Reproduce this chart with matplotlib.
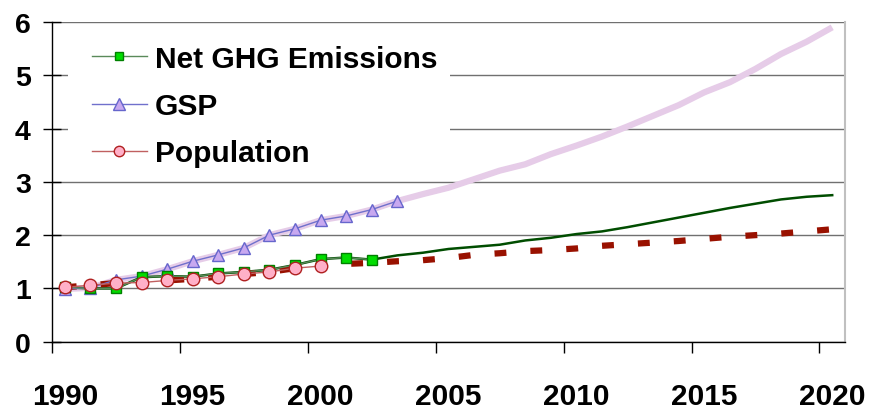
import matplotlib
matplotlib.use("Agg")
import matplotlib.pyplot as plt
from matplotlib.patches import Rectangle
from matplotlib.lines import Line2D

plt.rcParams['font.family'] = ['Liberation Sans', 'DejaVu Sans']
plt.rcParams['font.weight'] = 'bold'

# ---- data ----
years_ghg = list(range(1990, 2003))
ghg = [1.02, 1.00, 1.00, 1.21, 1.23, 1.22, 1.28, 1.31, 1.35, 1.44, 1.55, 1.58, 1.54]

years_gsp = list(range(1990, 2004))
gsp = [0.99, 1.01, 1.16, 1.23, 1.36, 1.51, 1.63, 1.76, 2.00, 2.12, 2.28, 2.36, 2.48, 2.64]

years_pop = list(range(1990, 2001))
pop = [1.02, 1.06, 1.10, 1.11, 1.15, 1.18, 1.22, 1.27, 1.31, 1.38, 1.42]

years_proj = list(range(1990, 2021))
ghg_proj = ghg + [1.62, 1.67, 1.74, 1.78, 1.82, 1.90, 1.95, 2.02, 2.07, 2.15,
                  2.24, 2.33, 2.42, 2.51, 2.59, 2.67, 2.72, 2.75]
gsp_proj = gsp + [2.77, 2.89, 3.05, 3.21, 3.33, 3.52, 3.68, 3.85, 4.04, 4.24,
                  4.44, 4.68, 4.87, 5.12, 5.40, 5.63, 5.90]
pop_proj = pop + [1.46, 1.48, 1.51, 1.53, 1.57, 1.63, 1.66, 1.70, 1.72, 1.75,
                  1.80, 1.83, 1.86, 1.89, 1.93, 1.97, 2.00, 2.03, 2.07, 2.11]

labels = ["Net GHG Emissions", "GSP", "Population"]
x_tick_labels = ["1990", "1995", "2000", "2005", "2010", "2015", "2020"]
y_ticks = [0, 1, 2, 3, 4, 5, 6]

# ---- figure ----
fig = plt.figure(figsize=(8.7, 4.1), dpi=100)
ax = fig.add_axes([52/870, 1-342.7/410, 793/870, (342.7-23)/410])

ax.set_xlim(1989.5, 2020.5)
ax.set_ylim(0, 6)
ax.set_axisbelow(True)
ax.yaxis.grid(True, color='#707070', lw=1.0)

# projection lines
ax.plot(years_proj, gsp_proj, color='#e6cce8', lw=4.5, solid_capstyle='butt', zorder=2)
ax.plot(years_proj, ghg_proj, color='#004d00', lw=1.8, zorder=2.2)
ax.plot(years_proj, pop_proj, color='#991100', lw=4.5, dashes=(1.9, 3.85),
        dash_capstyle='butt', zorder=2.4)

# historical series
ax.plot(years_gsp, gsp, color='#7070cc', lw=1.0, marker='^', ms=9,
        mfc='#c8a8f0', mec='#6666cc', mew=1.0, zorder=3)
ax.plot(years_ghg, ghg, color='#5a8a5a', lw=1.0, marker='s', ms=7.5,
        mfc='#00dd00', mec='#008000', mew=1.0, zorder=3.2)
ax.plot(years_pop, pop, color='#c06060', lw=1.0, marker='o', ms=9,
        mfc='#ffb0c8', mec='#b02020', mew=1.0, zorder=3.4)

# white legend area
ax.add_patch(Rectangle(((68-52)/793, (342.7-172)/319.7), (450-68)/793, (172-33)/319.7,
                       transform=ax.transAxes, facecolor='white', edgecolor='none', zorder=1.5))

handles = [
    Line2D([], [], color='#5a8a5a', lw=1.0, marker='s', ms=6, mfc='#00dd00', mec='#008000'),
    Line2D([], [], color='#7070cc', lw=1.0, marker='^', ms=8.5, mfc='#c8a8f0', mec='#6666cc'),
    Line2D([], [], color='#c06060', lw=1.0, marker='o', ms=7.5, mfc='#ffb0c8', mec='#b02020'),
]
leg = ax.legend(handles, labels, loc='center left',
                bbox_to_anchor=((92-52)/793, (342.7-107)/319.7),
                frameon=False, borderpad=0, borderaxespad=0,
                handlelength=1.84, handletextpad=0.27, labelspacing=0.64,
                prop={'family': 'Liberation Sans', 'weight': 'bold', 'size': 21.5})
leg.set_zorder(5)

# spines
ax.spines['top'].set_visible(False)
ax.spines['right'].set_color('#c0c0c0')
ax.spines['right'].set_linewidth(1.5)
for s in ('left', 'bottom'):
    ax.spines[s].set_color('black')
    ax.spines[s].set_linewidth(1.0)

# y axis
ax.set_yticks(y_ticks)
ax.set_yticklabels([str(v) for v in y_ticks])
ax.tick_params(axis='y', direction='inout', length=12.5, width=1.0, pad=9,
               labelsize=20.5, color='black')

# x axis: ticks between categories, labels at category centres
ax.set_xticks([1989.5 + 5*i for i in range(7)])
ax.set_xticklabels([])
ax.tick_params(axis='x', which='major', direction='out', length=8, width=1.0, color='black')
ax.set_xticks([1990 + 5*i for i in range(7)], minor=True)
ax.set_xticklabels(x_tick_labels, minor=True)
ax.tick_params(axis='x', which='minor', length=0, pad=29, labelsize=21.5)

for t in ax.get_xticklabels(minor=True) + ax.get_yticklabels():
    t.set_fontweight('bold')

fig.savefig('out.png', dpi=100)
